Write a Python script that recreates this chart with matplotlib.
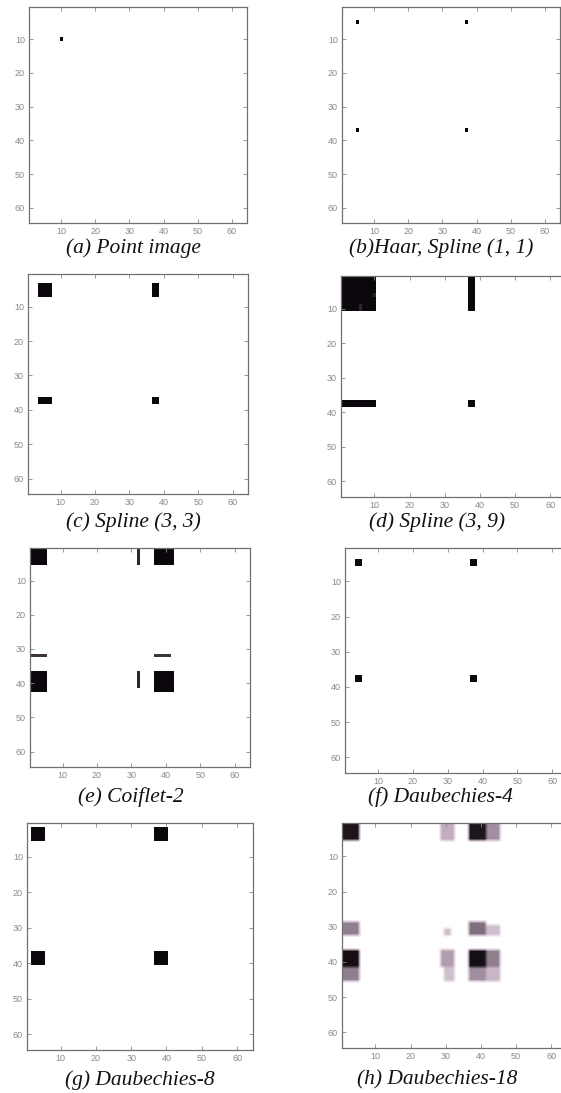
import numpy as np
import matplotlib
matplotlib.use("Agg")
import matplotlib.pyplot as plt
from matplotlib.colors import LinearSegmentedColormap

W, H = 561, 1093
N = 64

# blocks per panel: (row_start, row_end, col_start, col_end, intensity), 1-based inclusive
point_blocks = [(10, 10, 10, 10, 1.0)]
haar_blocks = [(5, 5, 5, 5, 1.0), (5, 5, 37, 37, 1.0),
               (37, 37, 5, 5, 1.0), (37, 37, 37, 37, 1.0)]
spline33_blocks = [(4, 7, 4, 7, 1.0), (4, 7, 37, 38, 1.0),
                   (37, 38, 4, 7, 1.0), (37, 38, 37, 38, 1.0)]
spline39_blocks = [(1, 10, 1, 10, 1.0), (9, 10, 6, 6, 0.9), (6, 6, 10, 10, 0.9),
                   (1, 10, 37, 38, 1.0),
                   (37, 38, 1, 10, 1.0), (37, 38, 37, 38, 1.0)]
coiflet_blocks = [(1, 5, 1, 5, 1.0), (1, 5, 32, 32, 0.9), (1, 5, 37, 42, 1.0),
                  (32, 32, 1, 5, 0.85), (32, 32, 37, 41, 0.85),
                  (37, 42, 1, 5, 1.0), (37, 41, 32, 32, 0.9), (37, 42, 37, 42, 1.0)]
daub4_blocks = [(4, 5, 4, 5, 1.0), (4, 5, 37, 38, 1.0),
                (37, 38, 4, 5, 1.0), (37, 38, 37, 38, 1.0)]
daub8_blocks = [(2, 5, 2, 5, 1.0), (2, 5, 37, 40, 1.0),
                (37, 40, 2, 5, 1.0), (37, 40, 37, 40, 1.0)]
daub18_blocks = [(1, 5, 1, 5, 0.95), (1, 5, 29, 32, 0.45), (1, 5, 37, 41, 0.95), (1, 5, 42, 45, 0.55),
                 (29, 32, 1, 5, 0.6), (31, 32, 30, 31, 0.35), (29, 32, 37, 41, 0.65), (30, 32, 42, 45, 0.35),
                 (37, 41, 1, 5, 0.97), (37, 41, 29, 32, 0.5), (37, 41, 37, 41, 0.97), (37, 41, 42, 45, 0.6),
                 (42, 45, 1, 5, 0.6), (42, 45, 30, 32, 0.35), (42, 45, 37, 41, 0.55), (42, 45, 42, 45, 0.4)]

titles = ["(a) Point image", "(b)Haar, Spline (1, 1)", "(c) Spline (3, 3)", "(d) Spline (3, 9)",
          "(e) Coiflet-2", "(f) Daubechies-4", "(g) Daubechies-8", "(h) Daubechies-18"]
panels = [point_blocks, haar_blocks, spline33_blocks, spline39_blocks,
          coiflet_blocks, daub4_blocks, daub8_blocks, daub18_blocks]
ticks = [10, 20, 30, 40, 50, 60]

# axes boxes in pixels: left, right, top, bottom ; title centre x, y
boxes = [(29, 247, 7, 223), (342, 560, 7, 223),
         (28, 248, 274, 494), (341, 566, 276, 497),
         (30, 250, 548, 767), (345, 568, 548, 773),
         (27, 253, 823, 1050), (342, 567, 823, 1048)]
title_pos = [(133, 248), (441, 248), (133, 522), (437, 522),
             (131, 797), (440, 797), (140, 1080), (437, 1080)]
interp = ["nearest"] * 7 + ["bilinear"]

cmap = LinearSegmentedColormap.from_list(
    "wpk", [(0.0, (1, 1, 1)), (0.45, (0.76, 0.68, 0.75)), (1.0, (0.05, 0.03, 0.05))])


def make_image(blocks):
    img = np.zeros((N, N))
    for r0, r1, c0, c1, v in blocks:
        img[r0 - 1:r1, c0 - 1:c1] = v
    return img


fig = plt.figure(figsize=(W / 100, H / 100), dpi=100)
for i in range(8):
    l, r, t, b = boxes[i]
    ax = fig.add_axes([l / W, 1 - b / H, (r - l) / W, (b - t) / H])
    ax.imshow(make_image(panels[i]), cmap=cmap, vmin=0, vmax=1, aspect="auto",
              extent=(0.5, N + 0.5, N + 0.5, 0.5), interpolation=interp[i])
    ax.set_xticks(ticks)
    ax.set_yticks(ticks)
    ax.tick_params(direction="in", length=3, width=0.6, top=True, right=True,
                   labelsize=6.5, labelcolor="#8a8a8a", color="#888888", pad=3)
    for lab in ax.get_xticklabels() + ax.get_yticklabels():
        lab.set_family("Liberation Sans")
    for s in ax.spines.values():
        s.set_color("#707070")
        s.set_linewidth(0.9)
    tx, ty = title_pos[i]
    fig.text(tx / W, 1 - ty / H, titles[i], ha="center", va="center",
             family="Liberation Serif", style="italic", size=15.5, color="#111111")

fig.savefig("out.png", dpi=100)
